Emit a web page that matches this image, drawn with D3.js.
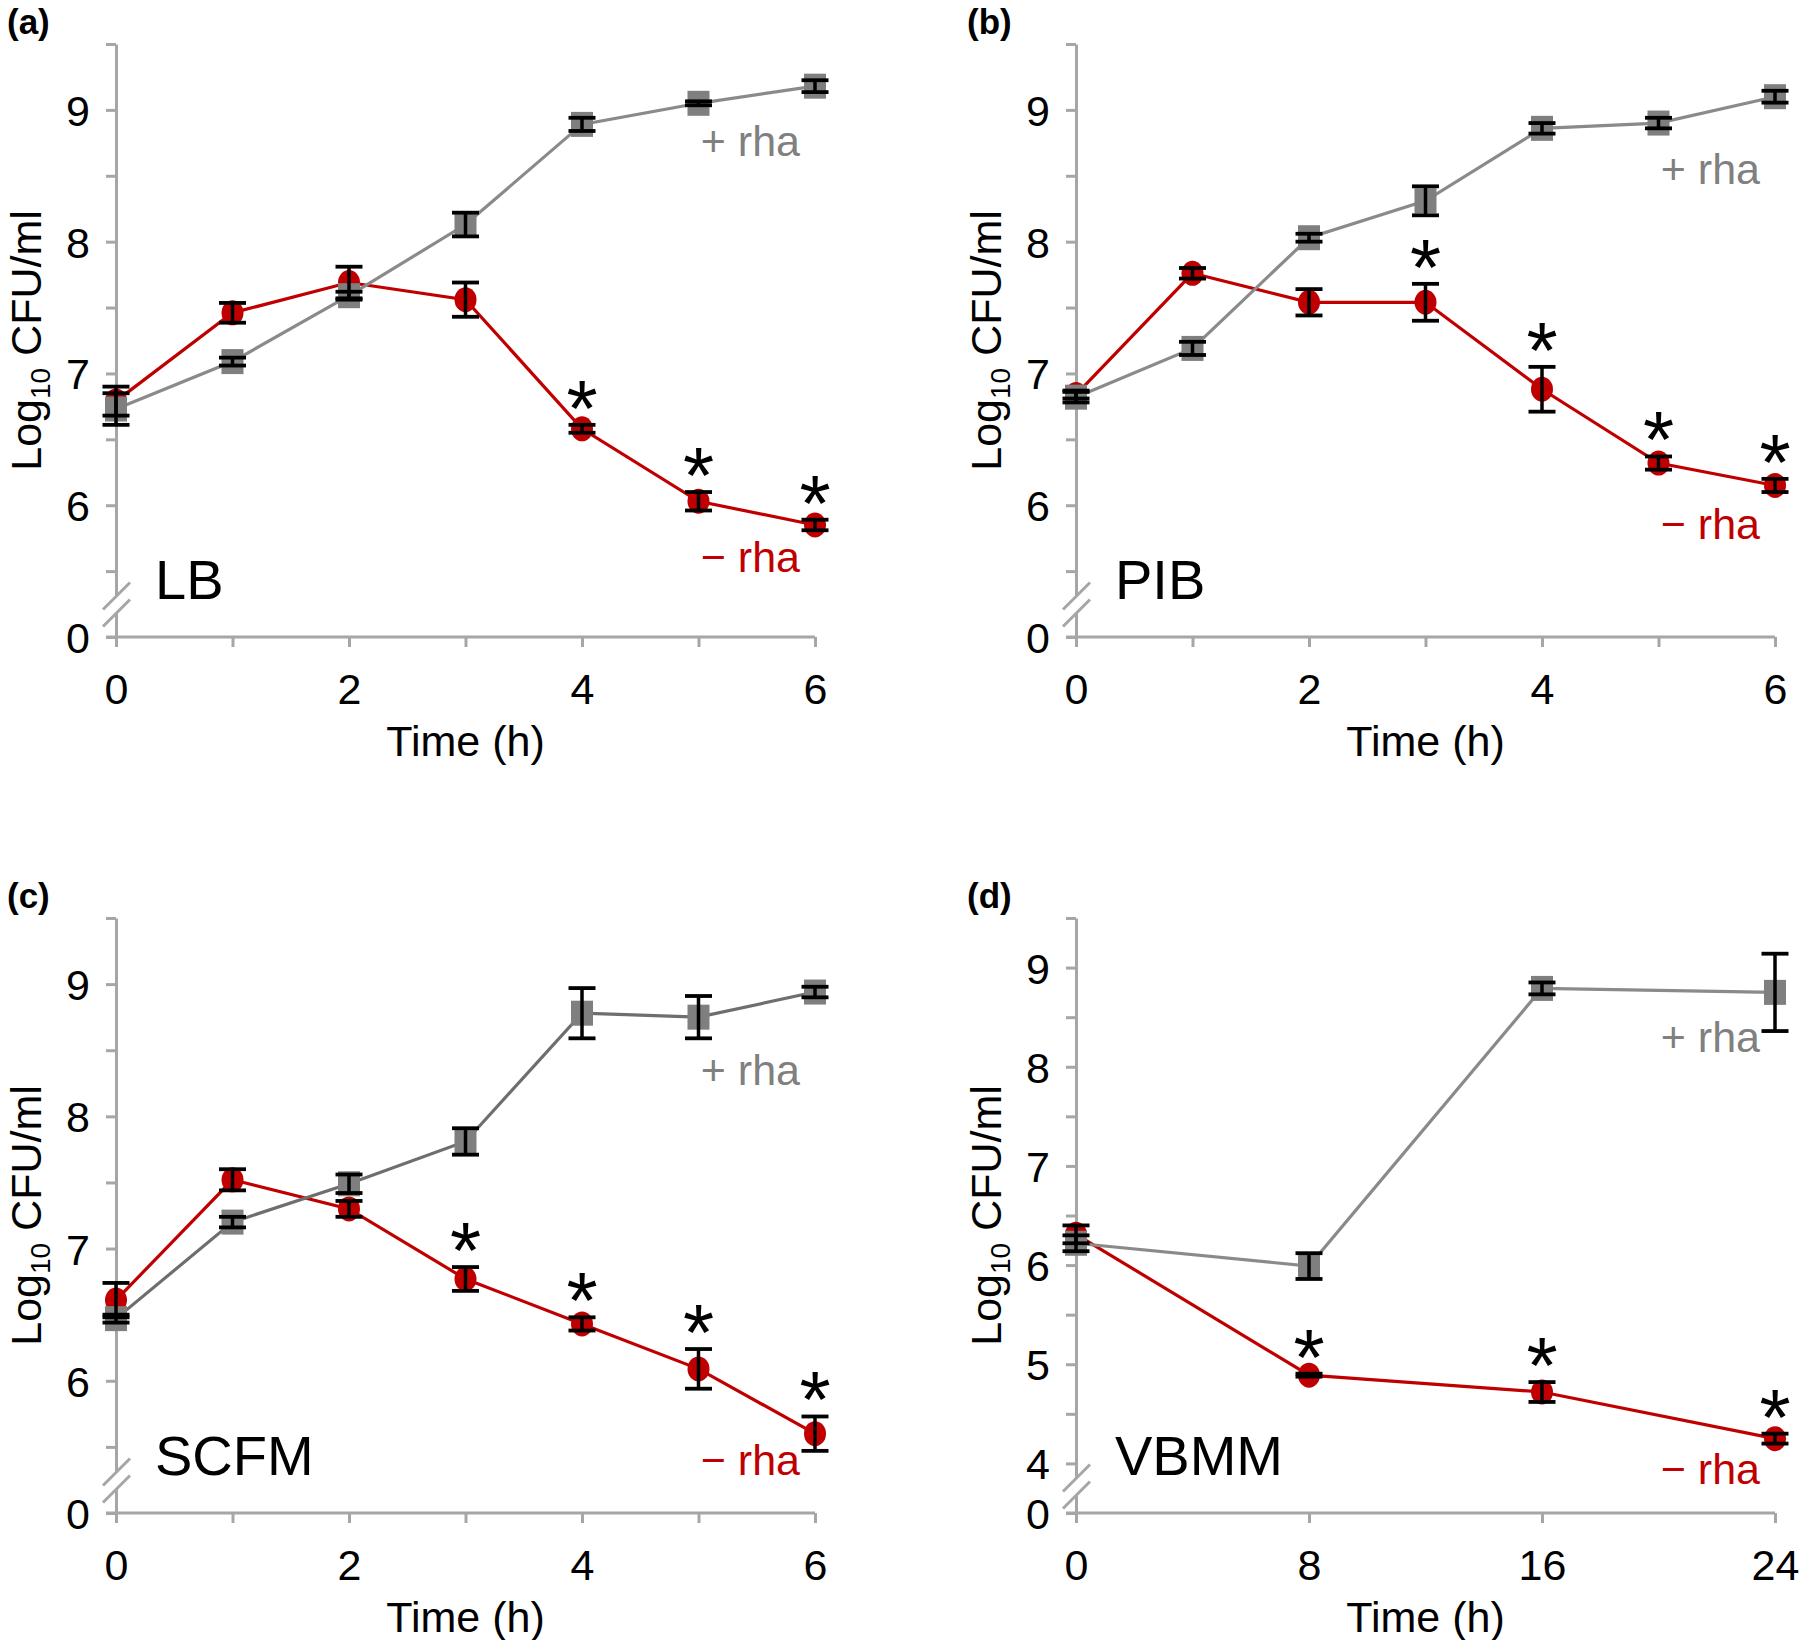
<!DOCTYPE html>
<html>
<head>
<meta charset="utf-8">
<script src="https://cdn.jsdelivr.net/npm/d3@7/dist/d3.min.js"></script>
<style>
  html, body { margin: 0; padding: 0; background: #ffffff; }
  svg { display: block; }
  text { font-family: "Liberation Sans", Arial, Helvetica, sans-serif; }
</style>
</head>
<body>
<script>
// ---------------- DATA ----------------
const timeHours = [0, 1, 2, 3, 4, 5, 6];
const timeVBMM = [0, 8, 16, 24];

// (a) LB
const lbPlus     = [6.73, 7.09, 7.59, 8.13, 8.89, 9.05, 9.18];
const lbPlusErr  = [0.12, 0.03, 0.03, 0.09, 0.05, 0.015, 0.045];
const lbMinus    = [6.79, 7.46, 7.69, 7.56, 6.58, 6.03, 5.85];
const lbMinusErr = [0.11, 0.075, 0.12, 0.13, 0.03, 0.07, 0.04];
const lbSig      = [4, 5, 6];

// (b) PIB
const pibPlus     = [6.82, 7.19, 8.03, 8.31, 8.86, 8.90, 9.10];
const pibPlusErr  = [0.04, 0.05, 0.03, 0.11, 0.04, 0.04, 0.045];
const pibMinus    = [6.84, 7.76, 7.54, 7.54, 6.88, 6.32, 6.15];
const pibMinusErr = [0.03, 0.04, 0.10, 0.14, 0.17, 0.05, 0.05];
const pibSig      = [3, 4, 5, 6];

// (c) SCFM
const scfmPlus     = [6.47, 7.20, 7.49, 7.81, 8.78, 8.75, 8.94];
const scfmPlusErr  = [0.03, 0.04, 0.07, 0.10, 0.19, 0.16, 0.04];
const scfmMinus    = [6.61, 7.52, 7.30, 6.77, 6.43, 6.09, 5.60];
const scfmMinusErr = [0.13, 0.08, 0.06, 0.09, 0.05, 0.15, 0.13];
const scfmSig      = [3, 4, 5, 6];

// (d) VBMM
const vbmmPlus     = [6.22, 5.99, 8.79, 8.75];
const vbmmPlusErr  = [0.08, 0.13, 0.06, 0.39];
const vbmmMinus    = [6.31, 4.89, 4.72, 4.25];
const vbmmMinusErr = [0.09, 0.015, 0.10, 0.05];
const vbmmSig      = [8, 16, 24];

const panelLetters = ["(a)", "(b)", "(c)", "(d)"];
const mediaNames   = ["LB", "PIB", "SCFM", "VBMM"];
const plusLabel  = "+ rha";
const minusLabel = "\u2212 rha";
const xTitle = "Time (h)";
const yTitleMain = "Log";
const yTitleSub = "10";
const yTitleRest = " CFU/ml";

// ---------------- LAYOUT / STYLE ----------------
const W = 1800, H = 1640;
const axisColor = "#a6a6a6";
const red = "#c00000";
const grayMarker = "#7f7f7f";
const fontMain = 43;

const panels = [
  { letter: panelLetters[0], medium: mediaNames[0], x: [116, 815], y: [637, 44], yLo: 5,
    times: timeHours, xTicks: d3.range(0, 7, 1), xLabelEvery: 2, xMax: 6,
    plus: lbPlus, plusErr: lbPlusErr, minus: lbMinus, minusErr: lbMinusErr, sig: lbSig,
    plusLabelY: 8.65, minusLabelY: 5.49, grayLine: "#8a8a8a", breakOff: 32 },
  { letter: panelLetters[1], medium: mediaNames[1], x: [1076, 1775], y: [637, 44], yLo: 5,
    times: timeHours, xTicks: d3.range(0, 7, 1), xLabelEvery: 2, xMax: 6,
    plus: pibPlus, plusErr: pibPlusErr, minus: pibMinus, minusErr: pibMinusErr, sig: pibSig,
    plusLabelY: 8.44, minusLabelY: 5.74, grayLine: "#8a8a8a", breakOff: 32 },
  { letter: panelLetters[2], medium: mediaNames[2], x: [116, 815], y: [1513, 918], yLo: 5,
    times: timeHours, xTicks: d3.range(0, 7, 1), xLabelEvery: 2, xMax: 6,
    plus: scfmPlus, plusErr: scfmPlusErr, minus: scfmMinus, minusErr: scfmMinusErr, sig: scfmSig,
    plusLabelY: 8.24, minusLabelY: 5.29, grayLine: "#6e6e6e", breakOff: 32 },
  { letter: panelLetters[3], medium: mediaNames[3], x: [1076, 1775], y: [1513, 918], yLo: 3.5,
    times: timeVBMM, xTicks: [0, 8, 16, 24], xLabelEvery: 8, xMax: 24,
    plus: vbmmPlus, plusErr: vbmmPlusErr, minus: vbmmMinus, minusErr: vbmmMinusErr, sig: vbmmSig,
    plusLabelY: 8.15, minusLabelY: 3.79, grayLine: "#8a8a8a", breakOff: 26 }
];

const svg = d3.select("body").append("svg")
  .attr("width", W).attr("height", H)
  .attr("viewBox", `0 0 ${W} ${H}`);

svg.append("rect").attr("width", W).attr("height", H).attr("fill", "#fff");

panels.forEach(p => {
  const g = svg.append("g");
  const xs = d3.scaleLinear().domain([0, p.xMax]).range(p.x);
  const ys = d3.scaleLinear().domain([p.yLo, 9.5]).range(p.y);
  const bottom = p.y[0];
  const left = p.x[0];

  // ---- y axis ----
  const yTicks = d3.range(p.yLo, 9.5001, 0.5);
  const yAxis = d3.axisLeft(ys)
    .tickValues(yTicks)
    .tickSize(10)
    .tickSizeOuter(0)
    .tickPadding(16)
    .tickFormat(v => {
      if (Math.abs(v - p.yLo) < 1e-6) return "0";
      if (Math.abs(v - Math.round(v)) < 1e-6 && v < 9.4) return String(Math.round(v));
      return "";
    });
  const ya = g.append("g").attr("transform", `translate(${left},0)`).call(yAxis);
  ya.select(".domain").attr("stroke", axisColor).attr("stroke-width", 3);
  ya.selectAll(".tick line").attr("stroke", axisColor).attr("stroke-width", 3);
  ya.selectAll(".tick text").attr("fill", "#000").attr("font-size", fontMain)
    .attr("font-family", "Liberation Sans, Arial, sans-serif").attr("dy", "0.36em");

  // ---- x axis ----
  const xAxis = d3.axisBottom(xs)
    .tickValues(p.xTicks)
    .tickSize(10)
    .tickSizeOuter(0)
    .tickPadding(26)
    .tickFormat(v => (v % p.xLabelEvery === 0 ? String(v) : ""));
  const xa = g.append("g").attr("transform", `translate(0,${bottom})`).call(xAxis);
  xa.select(".domain").attr("stroke", axisColor).attr("stroke-width", 3)
    .attr("d", `M${left - 10},0H${p.x[1]}`);
  xa.selectAll(".tick line").attr("stroke", axisColor).attr("stroke-width", 3);
  xa.selectAll(".tick text").attr("fill", "#000").attr("font-size", fontMain)
    .attr("font-family", "Liberation Sans, Arial, sans-serif");

  // ---- axis break ----
  const by = bottom - p.breakOff;
  const gap = 8.5;
  g.append("path")
    .attr("d", `M${left - 12},${by - gap + 13} L${left + 14},${by - gap - 13} L${left + 14},${by + gap - 13} L${left - 12},${by + gap + 13} Z`)
    .attr("fill", "#fff");
  [-gap, gap].forEach(o => {
    g.append("line")
      .attr("x1", left - 13).attr("y1", by + o + 13)
      .attr("x2", left + 14).attr("y2", by + o - 14)
      .attr("stroke", axisColor).attr("stroke-width", 3);
  });

  // ---- titles ----
  g.append("text")
    .attr("x", (p.x[0] + p.x[1]) / 2).attr("y", bottom + 119)
    .attr("text-anchor", "middle").attr("font-size", fontMain).attr("fill", "#000")
    .text(xTitle);

  const yMid = (p.y[0] + p.y[1]) / 2;
  const yt = g.append("text")
    .attr("transform", `translate(${left - 75},${yMid}) rotate(-90)`)
    .attr("text-anchor", "middle").attr("font-size", fontMain).attr("fill", "#000");
  yt.append("tspan").text(yTitleMain);
  yt.append("tspan").attr("font-size", 28).attr("dy", 9).text(yTitleSub);
  yt.append("tspan").attr("dy", -9).text(yTitleRest);

  g.append("text")
    .attr("x", left - 109).attr("y", p.y[1] - 10)
    .attr("font-size", 35).attr("font-weight", "bold").attr("fill", "#000")
    .text(p.letter);

  g.append("text")
    .attr("x", left + 39).attr("y", bottom - 38)
    .attr("font-size", 56).attr("fill", "#000")
    .text(p.medium);

  // ---- series ----
  const plusPts = p.times.map((t, i) => ({ t, v: p.plus[i], e: p.plusErr[i] }));
  const minusPts = p.times.map((t, i) => ({ t, v: p.minus[i], e: p.minusErr[i] }));
  const line = d3.line().x(d => xs(d.t)).y(d => ys(d.v));

  g.append("path").datum(minusPts).attr("d", line)
    .attr("fill", "none").attr("stroke", red).attr("stroke-width", 3.2);
  g.selectAll(null).data(minusPts).enter().append("ellipse")
    .attr("cx", d => xs(d.t)).attr("cy", d => ys(d.v))
    .attr("rx", 11).attr("ry", 12.5).attr("fill", red);

  g.append("path").datum(plusPts).attr("d", line)
    .attr("fill", "none").attr("stroke", p.grayLine).attr("stroke-width", 3.2);
  g.selectAll(null).data(plusPts).enter().append("rect")
    .attr("x", d => xs(d.t) - 11).attr("y", d => ys(d.v) - 12.5)
    .attr("width", 22).attr("height", 25).attr("fill", grayMarker);

  // error bars
  const capW = 13.5;
  [...minusPts, ...plusPts].forEach(d => {
    const cx = xs(d.t), y1 = ys(d.v + d.e), y2 = ys(d.v - d.e);
    g.append("line").attr("x1", cx).attr("x2", cx).attr("y1", y1).attr("y2", y2)
      .attr("stroke", "#000").attr("stroke-width", 3.5);
    [y1, y2].forEach(yy => {
      g.append("line").attr("x1", cx - capW).attr("x2", cx + capW)
        .attr("y1", yy).attr("y2", yy)
        .attr("stroke", "#000").attr("stroke-width", 3.8);
    });
  });

  // significance asterisks
  const astFs = 80;
  minusPts.filter(d => p.sig.includes(d.t)).forEach(d => {
    const cy = ys(d.v + d.e) - 35;
    g.append("text")
      .attr("x", xs(d.t)).attr("y", cy + 0.573 * astFs)
      .attr("text-anchor", "middle").attr("font-size", astFs).attr("fill", "#000")
      .text("*");
  });

  // series labels
  g.append("text")
    .attr("x", p.x[1] - 15).attr("y", ys(p.plusLabelY))
    .attr("text-anchor", "end").attr("font-size", fontMain).attr("fill", "#808080")
    .text(plusLabel);
  g.append("text")
    .attr("x", p.x[1] - 15).attr("y", ys(p.minusLabelY))
    .attr("text-anchor", "end").attr("font-size", fontMain).attr("fill", red)
    .text(minusLabel);
});
</script>
</body>
</html>
